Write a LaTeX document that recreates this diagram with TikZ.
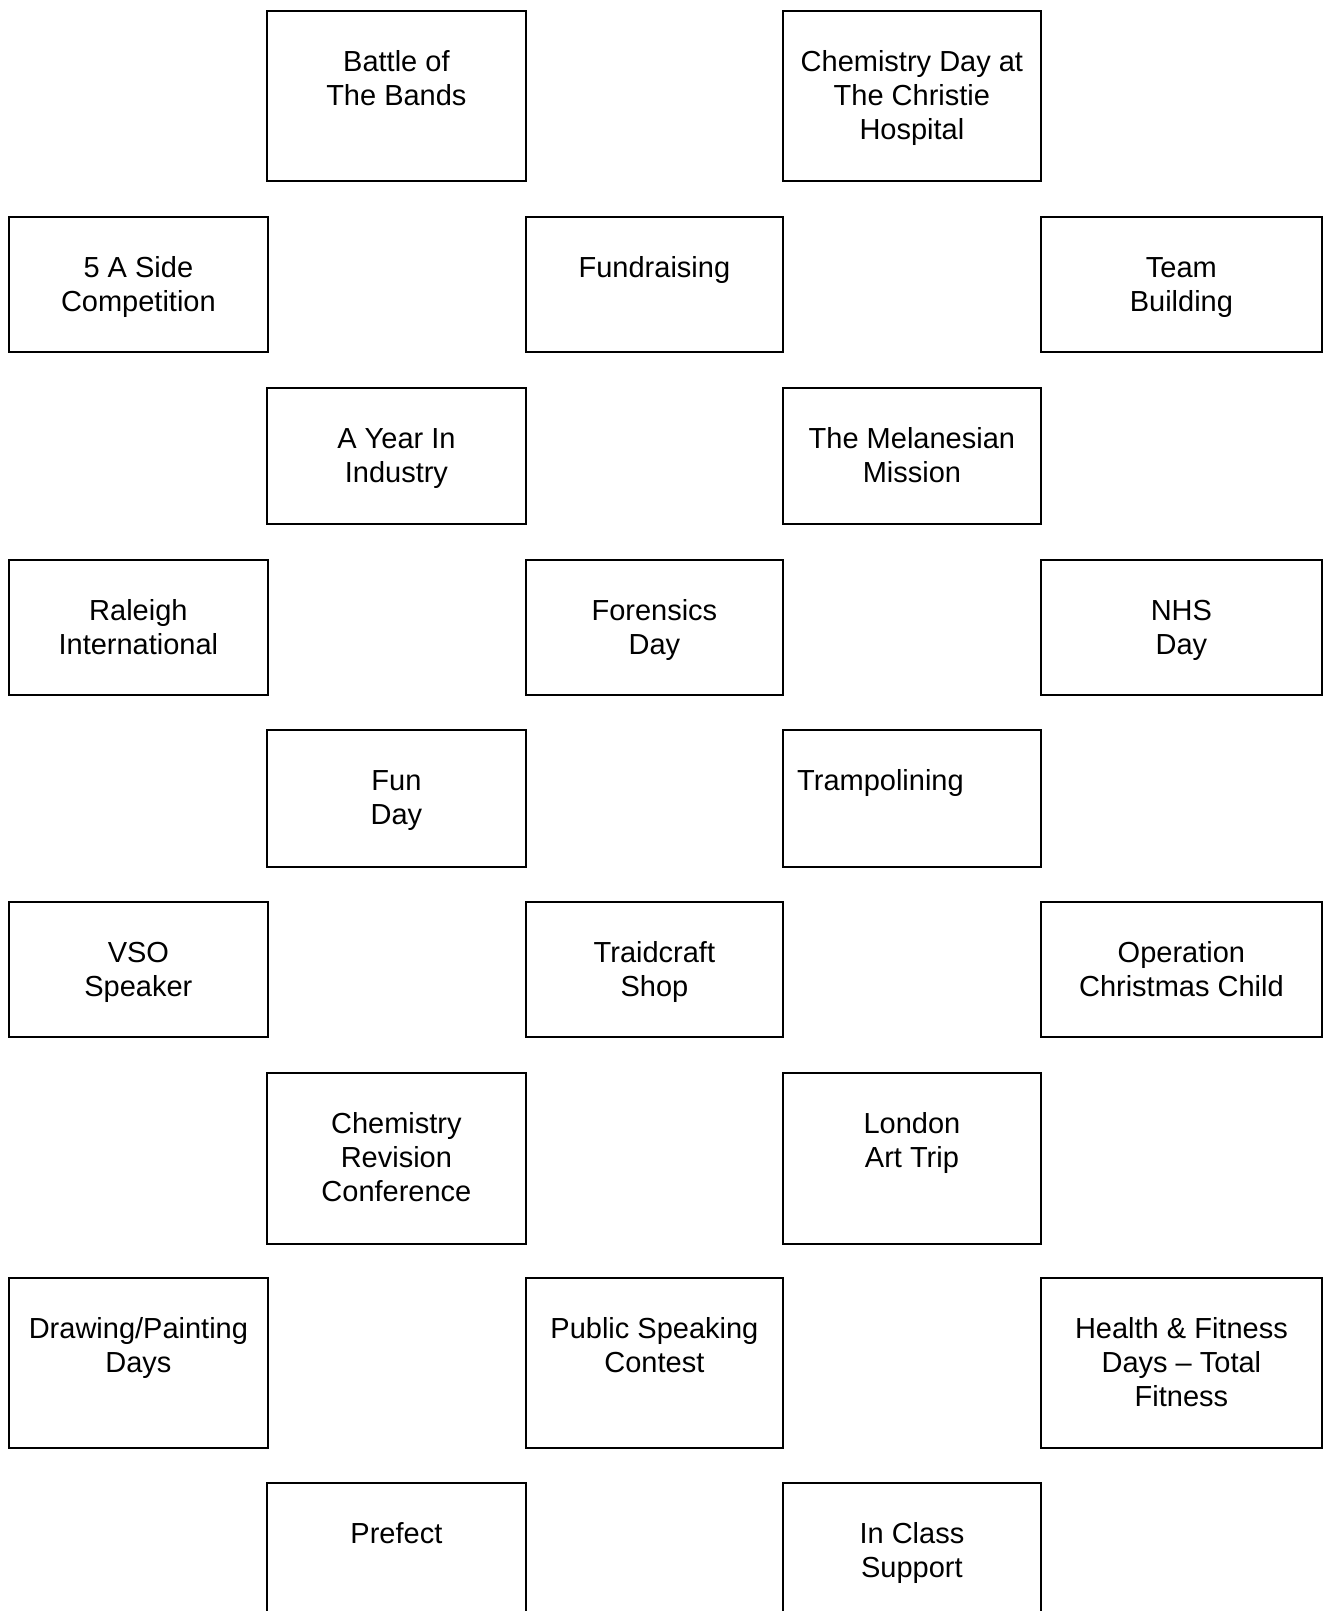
\documentclass[tikz,border=0pt]{standalone}
\usepackage{fontspec}
\setmainfont{Liberation Sans}
\tikzset{
  cellbox/.style={draw=black, line width=1.8pt, inner sep=0pt, fill=none},
  celltext/.style={inner sep=0pt, font=\fontsize{29}{34}\selectfont, text=black}
}
\newcommand\cell[6]{%
  \node[cellbox, minimum width={#4-#2}, minimum height={#5-#3}, anchor=north west] (#1) at (#2,#3) {};
  \node[celltext, anchor=base] (#1t) at ([yshift=-61pt]#1.north) {\begin{tabular}[t]{@{}c@{}}#6\end{tabular}};%
}
\begin{document}
\begin{tikzpicture}[x=1pt,y=-1pt]
\useasboundingbox[fill=white] (0,0) rectangle (1323,1611);
% row 1
\cell{battle}{266}{10}{525}{180}{Battle of\\The Bands}
\cell{chemday}{782}{10}{1040}{180}{Chemistry Day at\\The Christie\\Hospital}
% row 2
\cell{fiveside}{8}{216}{267}{351}{5 A Side\\Competition}
\cell{fund}{525}{216}{782}{351}{Fundraising}
\cell{team}{1040}{216}{1321}{351}{Team\\Building}
% row 3
\cell{year}{266}{387}{525}{523}{A Year In\\Industry}
\cell{mel}{782}{387}{1040}{523}{The Melanesian\\Mission}
% row 4
\cell{raleigh}{8}{559}{267}{694}{Raleigh\\International}
\cell{foren}{525}{559}{782}{694}{Forensics\\Day}
\cell{nhs}{1040}{559}{1321}{694}{NHS\\Day}
% row 5
\cell{fun}{266}{729}{525}{866}{Fun\\Day}
\node[cellbox, minimum width=258, minimum height=137, anchor=north west] (tramp) at (782,729) {};
\node[celltext, anchor=base west] (trampt) at ([xshift=15pt,yshift=-61pt]tramp.north west) {Trampolining};
% row 6
\cell{vso}{8}{901}{267}{1036}{VSO\\Speaker}
\cell{traid}{525}{901}{782}{1036}{Traidcraft\\Shop}
\cell{occ}{1040}{901}{1321}{1036}{Operation\\Christmas Child}
% row 7
\cell{chemrev}{266}{1072}{525}{1243}{Chemistry\\Revision\\Conference}
\cell{london}{782}{1072}{1040}{1243}{London\\Art Trip}
% row 8
\cell{draw}{8}{1277}{267}{1447}{Drawing/Painting\\Days}
\cell{speak}{525}{1277}{782}{1447}{Public Speaking\\Contest}
\cell{health}{1040}{1277}{1321}{1447}{Health \& Fitness\\Days – Total\\Fitness}
% row 9
\cell{prefect}{266}{1482}{525}{1640}{Prefect}
\cell{inclass}{782}{1482}{1040}{1640}{In Class\\Support}
\end{tikzpicture}
\end{document}
